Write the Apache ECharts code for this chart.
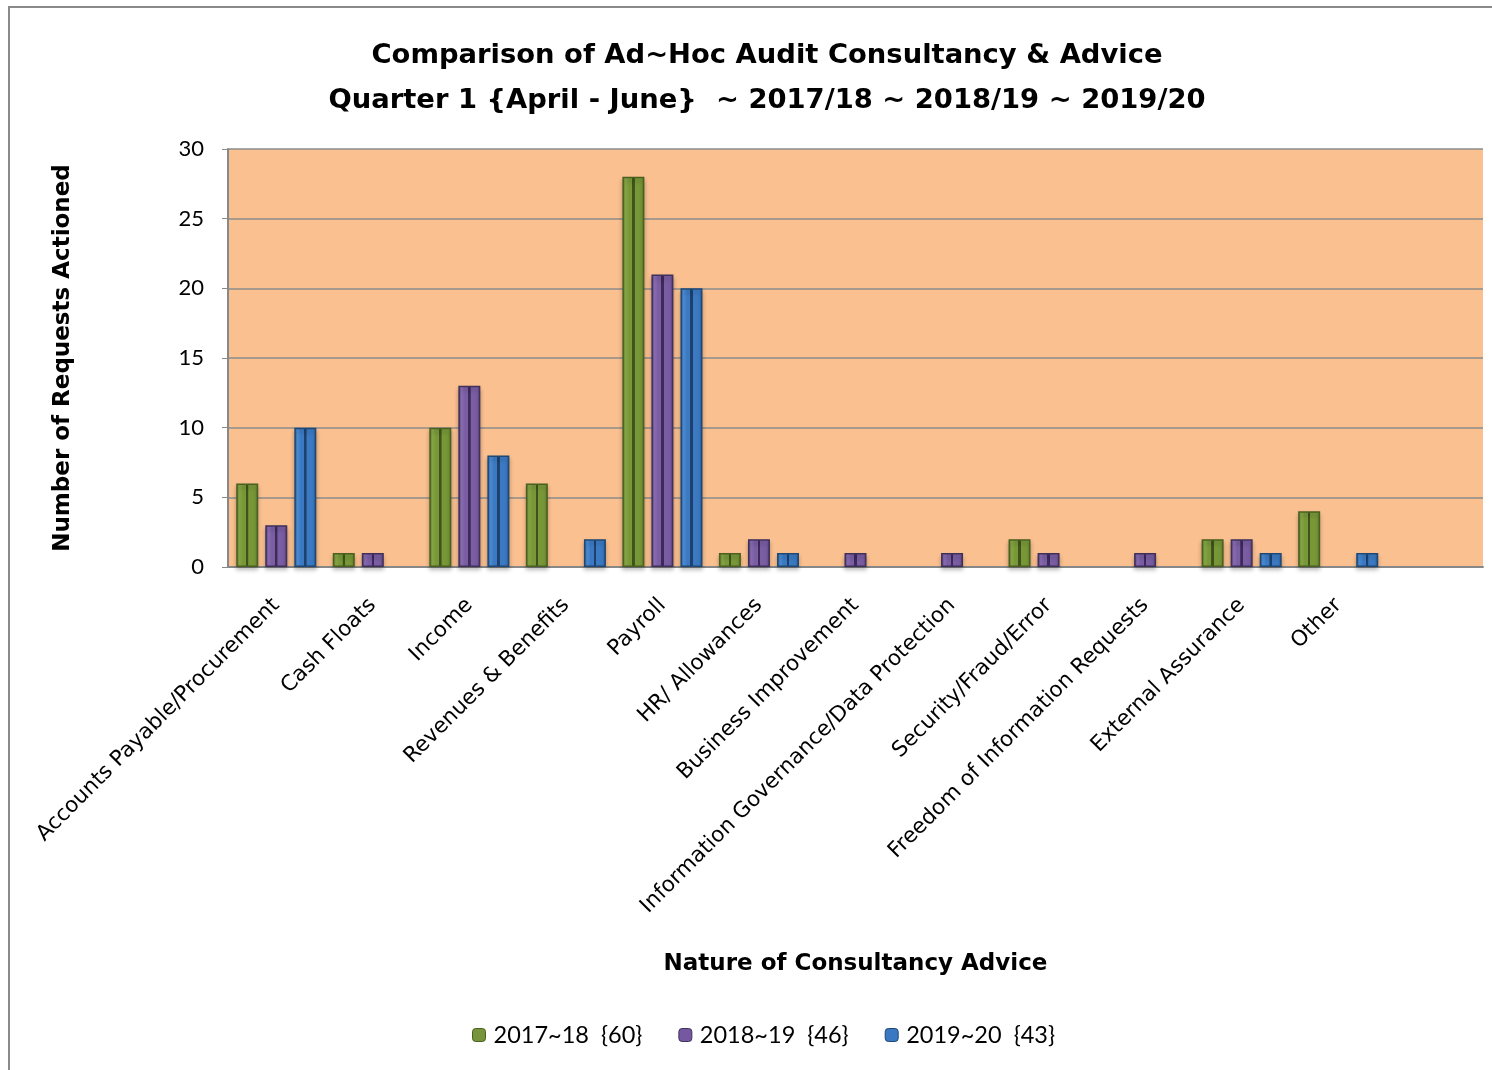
<!DOCTYPE html>
<html>
<head>
<meta charset="utf-8">
<script src="https://cdn.jsdelivr.net/npm/echarts@6/dist/echarts.min.js"></script>
<style>
html,body{margin:0;padding:0;background:#fff;}
#chart{width:1492px;height:1070px;}
</style>
</head>
<body>
<div id="chart"></div>
<script>
const categories = ['Accounts Payable/Procurement','Cash Floats','Income','Revenues & Benefits','Payroll','HR/ Allowances','Business Improvement','Information Governance/Data Protection','Security/Fraud/Error','Freedom of Information Requests','External Assurance','Other'];
const s2017 = [6, 1, 10, 6, 28, 1, 0, 0, 2, 0, 2, 4];
const s2018 = [3, 1, 13, 0, 21, 2, 1, 1, 1, 1, 2, 0];
const s2019 = [10, 0, 8, 2, 20, 1, 0, 0, 0, 0, 1, 1];
const seriesNames = ['2017~18  {60}', '2018~19  {46}', '2019~20  {43}'];
const yTicks = [0, 5, 10, 15, 20, 25, 30];

const comic = '"Comic Sans MS","DejaVu Sans",sans-serif';
const calibri = 'Lato, "Open Sans", sans-serif';

function bevel(edge, light, mid, dark) {
  return {
    type: 'linear', x: 0, y: 0, x2: 1, y2: 0,
    colorStops: [
      {offset: 0, color: edge},
      {offset: 0.14, color: light},
      {offset: 0.3, color: mid},
      {offset: 0.44, color: mid},
      {offset: 0.45, color: dark},
      {offset: 0.55, color: dark},
      {offset: 0.56, color: mid},
      {offset: 0.86, color: mid},
      {offset: 1, color: edge}
    ]
  };
}
const styles = [
  {fill: bevel('#5E7A2C', '#8AAA48', '#789838', '#3F521C'), border: '#4A6020', legend: '#77933C'},
  {fill: bevel('#553F74', '#8D70B5', '#7A5DA3', '#3C2A58'), border: '#40305C', legend: '#7558A0'},
  {fill: bevel('#285A94', '#4F8FD6', '#3B7AC3', '#1E406C'), border: '#204874', legend: '#3A78C2'}
];
const dataSets = [s2017, s2018, s2019];

const axisCats = categories.concat(['']);

const chart = echarts.init(document.getElementById('chart'));
chart.setOption({
  animation: false,
  backgroundColor: '#fff',
  graphic: [{
    type: 'rect', shape: {x: 9, y: 7, width: 1600, height: 1200},
    style: {fill: 'none', stroke: '#8a8a8a', lineWidth: 2}, z: 100, silent: true
  }],
  title: {
    text: 'Comparison of Ad~Hoc Audit Consultancy & Advice\nQuarter 1 {April - June}  ~ 2017/18 ~ 2018/19 ~ 2019/20',
    left: 762, top: 28, textAlign: 'center',
    textStyle: {fontFamily: comic, fontWeight: 'bold', fontSize: 27.4, color: '#000', lineHeight: 45}
  },
  legend: {
    bottom: 18, left: 467,
    itemWidth: 13, itemHeight: 13, itemGap: 36,
    textStyle: {fontFamily: calibri, fontSize: 23.5, color: '#000', padding: [0, 0, 0, 3]},
    data: seriesNames.map((n, i) => ({name: n, itemStyle: {color: styles[i].legend, borderColor: styles[i].border, borderWidth: 1}}))
  },
  grid: {left: 228, top: 149, right: 9, bottom: 503, show: true, backgroundColor: '#FAC090', borderWidth: 0},
  xAxis: {
    type: 'category', data: axisCats,
    name: 'Nature of Consultancy Advice', nameLocation: 'middle', nameGap: 386,
    nameTextStyle: {fontFamily: comic, fontWeight: 'bold', fontSize: 23, color: '#000'},
    axisLine: {lineStyle: {color: '#888', width: 2}},
    axisTick: {show: false},
    axisLabel: {rotate: 45, interval: 0, margin: 35, fontFamily: comic, fontSize: 21.5, color: '#000'}
  },
  yAxis: {
    type: 'value', min: 0, max: 30, interval: 5,
    name: 'Number of Requests Actioned', nameLocation: 'middle', nameGap: 153, nameRotate: 90,
    nameTextStyle: {fontFamily: comic, fontWeight: 'bold', fontSize: 23, color: '#000'},
    axisLine: {show: true, lineStyle: {color: '#888', width: 2}},
    axisTick: {show: true, length: 6, lineStyle: {color: '#888'}},
    axisLabel: {margin: 24, fontFamily: calibri, fontSize: 22, color: '#000',
      formatter: v => yTicks.indexOf(v) >= 0 ? String(v) : ''},
    splitLine: {lineStyle: {color: '#8c8c8c', width: 1.5}}
  },
  series: dataSets.map((d, i) => ({
    name: seriesNames[i], type: 'bar',
    data: d.map(v => (v === 0 ? null : v)),
    barWidth: 22, barGap: '32%',
    itemStyle: {color: styles[i].fill, borderColor: styles[i].border, borderWidth: 1.5,
      shadowColor: 'rgba(0,0,0,0.25)', shadowBlur: 4, shadowOffsetY: 3}
  }))
});
</script>
</body>
</html>
